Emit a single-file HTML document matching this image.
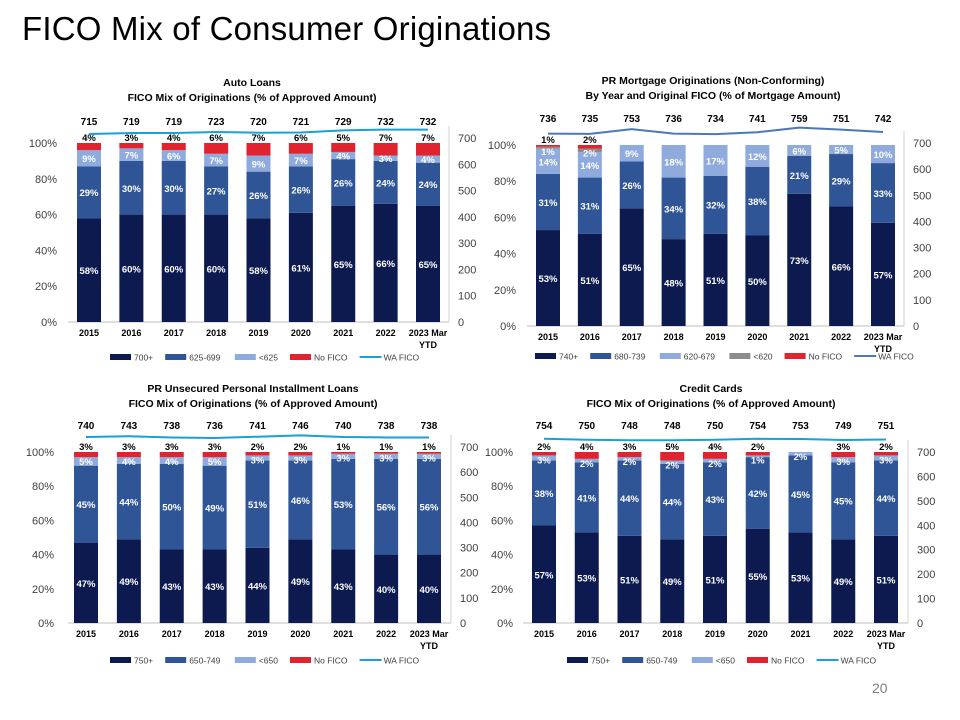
<!DOCTYPE html>
<html><head><meta charset="utf-8">
<style>
body{margin:0;background:#fff;width:960px;height:720px;overflow:hidden;font-family:"Liberation Sans",sans-serif;}
#title{position:absolute;left:22px;top:10px;font-size:33px;color:#000;letter-spacing:0.2px;}
#pg{position:absolute;left:872px;top:680px;font-size:14px;color:#7f7f7f;}
svg{position:absolute;left:0;top:0}
</style></head><body>
<div id="title">FICO Mix of Consumer Originations</div>
<div id="pg">20</div>
<svg id="svg" width="960" height="720"></svg>
<script>
const categories=["2015","2016","2017","2018","2019","2020","2021","2022","2023 Mar|YTD"];
// Auto loans
const autoHigh=[58,60,60,60,58,61,65,66,65];
const autoMid=[29,30,30,27,26,26,26,24,24];
const autoLow=[9,7,6,7,9,7,4,3,4];
const autoNone=[4,3,4,6,7,6,5,7,7];
const autoWA=[715,719,719,723,720,721,729,732,732];
// Mortgage
const mtgHigh=[53,51,65,48,51,50,73,66,57];
const mtgMid=[31,31,26,34,32,38,21,29,33];
const mtgLow=[14,14,9,18,17,12,6,5,10];
const mtgSub=[1,2,0,0,0,0,0,0,0];
const mtgNone=[1,2,0,0,0,0,0,0,0];
const mtgWA=[736,735,753,736,734,741,759,751,742];
// Unsecured personal
const unsHigh=[47,49,43,43,44,49,43,40,40];
const unsMid=[45,44,50,49,51,46,53,56,56];
const unsLow=[5,4,4,5,3,3,3,3,3];
const unsNone=[3,3,3,3,2,2,1,1,1];
const unsWA=[740,743,738,736,741,746,740,738,738];
// Credit cards
const ccHigh=[57,53,51,49,51,55,53,49,51];
const ccMid=[38,41,44,44,43,42,45,45,44];
const ccLow=[3,2,2,2,2,1,2,3,3];
const ccNone=[2,4,3,5,4,2,0,3,2];
const ccWA=[754,750,748,748,750,754,753,749,751];
const leftTicks=["0%","20%","40%","60%","80%","100%"];
const rightTicks=[0,100,200,300,400,500,600,700];

const NAVY="#0c1a50",MID="#2f5597",LIGHT="#8faadc",RED="#e0232e",GREY="#8c8c8c";
const svg=document.getElementById('svg');
const NS="http://www.w3.org/2000/svg";
function mk(tag,attrs,parent){const e=document.createElementNS(NS,tag);for(const k in attrs)e.setAttribute(k,attrs[k]);(parent||svg).appendChild(e);return e;}
function txt(s,x,y,opt,parent){const t=mk('text',{x:x,y:y,'font-size':opt.size||10,'font-weight':opt.bold?'bold':'normal','text-anchor':opt.anchor||'middle',fill:opt.fill||'#000','font-family':'"Liberation Sans",sans-serif'},parent);t.textContent=s;return t;}

function chart(c){
  const g=mk('g',{});
  
  
  const n=categories.length;
  const step=(c.lastX-c.firstX)/(n-1);
  const xOf=i=>c.firstX+i*step;
  const yP=v=>c.y0-(c.y0-c.y100)*v/100;
  const yR=v=>c.y0-(c.y0-c.r700)*v/700;
  const t1=txt(c.title1,c.titleX,c.titleY,{size:10.5,bold:true},g);
  
  const t2=txt(c.title2,c.titleX,c.titleY+15,{size:10.5,bold:true},g);
  
  mk('line',{x1:c.axisL,y1:c.y0,x2:c.axisR,y2:c.y0,stroke:'#bfbfbf','stroke-width':1},g);
  mk('line',{x1:c.axisR,y1:c.y0,x2:c.axisR,y2:c.r700-12,stroke:'#d0d0d0','stroke-width':1},g);
  leftTicks.forEach((s,i)=>{const t=txt(s,c.leftLblX,yP(i*20)+4,{size:11,anchor:'end',fill:'#404040'},g);
    });
  rightTicks.forEach(v=>{const t=txt(String(v),c.axisR+9,yR(v)+4,{size:11,anchor:'start',fill:'#404040'},g);
    });
  categories.forEach((cat,i)=>{
    const x=xOf(i);let acc=0;
    c.series.forEach((s,si)=>{
      const v=s.data[i];if(!v)return;
      const y1=yP(acc),y2=yP(acc+v);
      const r=mk('rect',{x:x-c.bw/2,y:y2,width:c.bw,height:y1-y2,fill:s.color},g);
      
      
      let ly;const last=si===c.series.length-1;
      if(last) ly=y2-2;
      else if(s.small) ly=y2+8;
      else ly=(y1+y2)/2+4;
      const lt=txt(v+'%',x,ly,{size:9.5,bold:true,fill:last?'#000':'#fff'},g);
      
      acc+=v;
    });
    const parts=cat.split('|');
    parts.forEach((p,k)=>{const t=txt(p,x,c.y0+14+k*12,{size:9,bold:true},g);
      });
    const wt=txt(String(c.wa[i]),x,c.waLblY,{size:10,bold:true},g);
    
  });
  const pts=c.wa.map((v,i)=>xOf(i)+','+yR(v)).join(' ');
  const pl=mk('polyline',{points:pts,fill:'none',stroke:c.lineColor,'stroke-width':2},g);
  
  let lx=c.legX;
  c.series.concat([{label:'WA FICO',line:true,color:c.lineColor}]).forEach(s=>{
    const lg=mk('g',{},g);
    
    
    if(s.line) mk('line',{x1:lx,y1:c.legY,x2:lx+22,y2:c.legY,stroke:s.color,'stroke-width':2},lg);
    else mk('rect',{x:lx,y:c.legY-3,width:21,height:6,fill:s.color},lg);
    txt(s.label,lx+24,c.legY+3.5,{size:8.5,anchor:'start',fill:'#404040'},lg);
    lx+=24+s.label.length*4.8+c.legGap;
  });
}
chart({name:'auto-loans-chart',title1:'Auto Loans',title2:'FICO Mix of Originations (% of Approved Amount)',titleX:252,titleY:86,
  firstX:89,lastX:428,bw:24,y0:322,y100:143,r700:138,axisL:68,axisR:449,leftLblX:57,waLblY:125,
  lineColor:'#1aa0d8',legX:110,legY:357,legGap:12,wa:autoWA,
  series:[{key:'700plus',label:'700+',color:NAVY,data:autoHigh},{key:'625-699',label:'625-699',color:MID,data:autoMid},
    {key:'lt625',label:'<625',color:LIGHT,data:autoLow},{key:'nofico',label:'No FICO',color:RED,data:autoNone}]});
chart({name:'mortgage-chart',title1:'PR Mortgage Originations (Non-Conforming)',title2:'By Year and Original FICO (% of Mortgage Amount)',titleX:713,titleY:84,
  firstX:548,lastX:883,bw:24,y0:326,y100:145,r700:143,axisL:527,axisR:904,leftLblX:516,waLblY:122,
  lineColor:'#4a78b8',legX:535,legY:356,legGap:12,wa:mtgWA,
  series:[{key:'740plus',label:'740+',color:NAVY,data:mtgHigh},{key:'680-739',label:'680-739',color:MID,data:mtgMid},
    {key:'620-679',label:'620-679',color:LIGHT,data:mtgLow},{key:'lt620',label:'<620',color:GREY,data:mtgSub,small:true},{key:'nofico',label:'No FICO',color:RED,data:mtgNone}]});
chart({name:'unsecured-loans-chart',title1:'PR Unsecured Personal Installment Loans',title2:'FICO Mix of Originations (% of Approved Amount)',titleX:253,titleY:392,
  firstX:86,lastX:429,bw:24,y0:623,y100:452,r700:447,axisL:68,axisR:451,leftLblX:54,waLblY:429,
  lineColor:'#1aa0d8',legX:110,legY:660,legGap:12,wa:unsWA,
  series:[{key:'750plus',label:'750+',color:NAVY,data:unsHigh},{key:'650-749',label:'650-749',color:MID,data:unsMid},
    {key:'lt650',label:'<650',color:LIGHT,data:unsLow,small:true},{key:'nofico',label:'No FICO',color:RED,data:unsNone}]});
chart({name:'credit-cards-chart',title1:'Credit Cards',title2:'FICO Mix of Originations (% of Approved Amount)',titleX:711,titleY:392,
  firstX:544,lastX:886,bw:24,y0:623,y100:452,r700:452,axisL:523,axisR:908,leftLblX:513,waLblY:429,
  lineColor:'#1aa0d8',legX:567,legY:660,legGap:12,wa:ccWA,
  series:[{key:'750plus',label:'750+',color:NAVY,data:ccHigh},{key:'650-749',label:'650-749',color:MID,data:ccMid},
    {key:'lt650',label:'<650',color:LIGHT,data:ccLow,small:true},{key:'nofico',label:'No FICO',color:RED,data:ccNone}]});
</script>
</body></html>
